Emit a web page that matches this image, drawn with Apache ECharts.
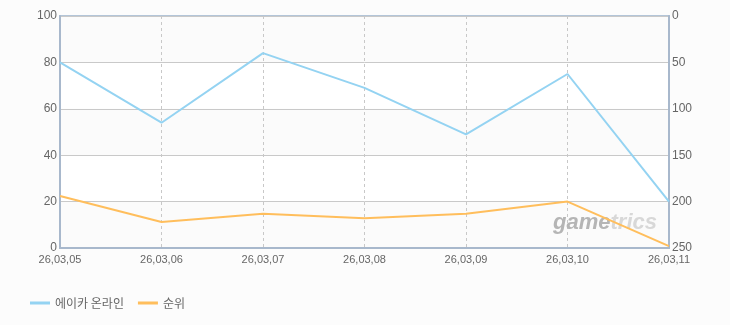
<!DOCTYPE html>
<html><head><meta charset="utf-8">
<script src="https://cdn.jsdelivr.net/npm/echarts@6/dist/echarts.min.js"></script>
<style>html,body{margin:0;padding:0;background:#fcfcfc;}#c{width:730px;height:325px;}</style>
</head><body><div id="c"></div>
<script>
var categories = ['26,03,05','26,03,06','26,03,07','26,03,08','26,03,09','26,03,10','26,03,11'];
var seriesNames = ['에이카 온라인','순위'];
var onlineValues = [80, 54, 84, 69, 49, 75, 20];
var rankValues = [194, 222, 213, 218, 213, 200, 248];

var chart = echarts.init(document.getElementById('c'));
var font = "'Noto Sans CJK KR', 'Noto Sans', sans-serif";
chart.setOption({
  backgroundColor: '#fcfcfc',
  animation: false,
  grid: {left: 60, right: 61, top: 16, bottom: 77, show: true, borderColor: '#b3c5d8', borderWidth: 2, backgroundColor: '#fcfcfc'},
  legend: {
    left: 25, top: 292, itemWidth: 20, itemHeight: 3, itemGap: 14,
    icon: 'rect',
    textStyle: {color: '#666', fontSize: 12, fontFamily: font},
    data: seriesNames
  },
  graphic: [{
    type: 'text', right: 73, top: 212,
    style: {
      text: '{a|game}{b|trics}',
      rich: {
        a: {fill: '#b5b5b5', fontSize: 22, fontStyle: 'italic', fontWeight: 'bold', fontFamily: 'Liberation Sans, sans-serif'},
        b: {fill: '#d8d8d8', fontSize: 22, fontStyle: 'italic', fontWeight: 'bold', fontFamily: 'Liberation Sans, sans-serif'}
      }
    },
    z: 1
  }],
  xAxis: {
    type: 'category', data: categories, boundaryGap: false,
    axisLine: {lineStyle: {color: '#a8b8cc', width: 2}},
    axisTick: {show: false},
    axisLabel: {color: '#666', fontSize: 11, fontFamily: 'Liberation Sans, sans-serif', margin: 6, showMaxLabel: true, showMinLabel: true},
    splitLine: {show: true, lineStyle: {color: '#c8c8c8', type: [3, 3], width: 1}}
  },
  yAxis: [{
    type: 'value', min: 0, max: 100, interval: 20, position: 'left',
    axisLine: {show: true, lineStyle: {color: '#a8b8cc', width: 2}},
    axisTick: {show: false},
    axisLabel: {color: '#666', fontSize: 12, fontFamily: 'Liberation Sans, sans-serif', margin: 3},
    splitLine: {show: true, lineStyle: {color: '#c9c9c9', width: 1}},
    splitArea: {show: true, areaStyle: {color: ['#fbfbfb', '#ffffff']}}
  }, {
    type: 'value', min: 0, max: 250, interval: 50, position: 'right', inverse: true,
    axisLine: {show: true, lineStyle: {color: '#a8b8cc', width: 2}},
    axisTick: {show: false},
    axisLabel: {color: '#666', fontSize: 12, fontFamily: 'Liberation Sans, sans-serif', margin: 3},
    splitLine: {show: false}
  }],
  series: [{
    name: seriesNames[0], type: 'line', data: onlineValues, yAxisIndex: 0,
    symbol: 'none', lineStyle: {color: '#94d3f2', width: 2}, itemStyle: {color: '#94d3f2'}, z: 3
  }, {
    name: seriesNames[1], type: 'line', data: rankValues, yAxisIndex: 1,
    symbol: 'none', lineStyle: {color: '#ffbe5c', width: 2}, itemStyle: {color: '#ffbe5c'}, z: 3
  }]
});
</script></body></html>
